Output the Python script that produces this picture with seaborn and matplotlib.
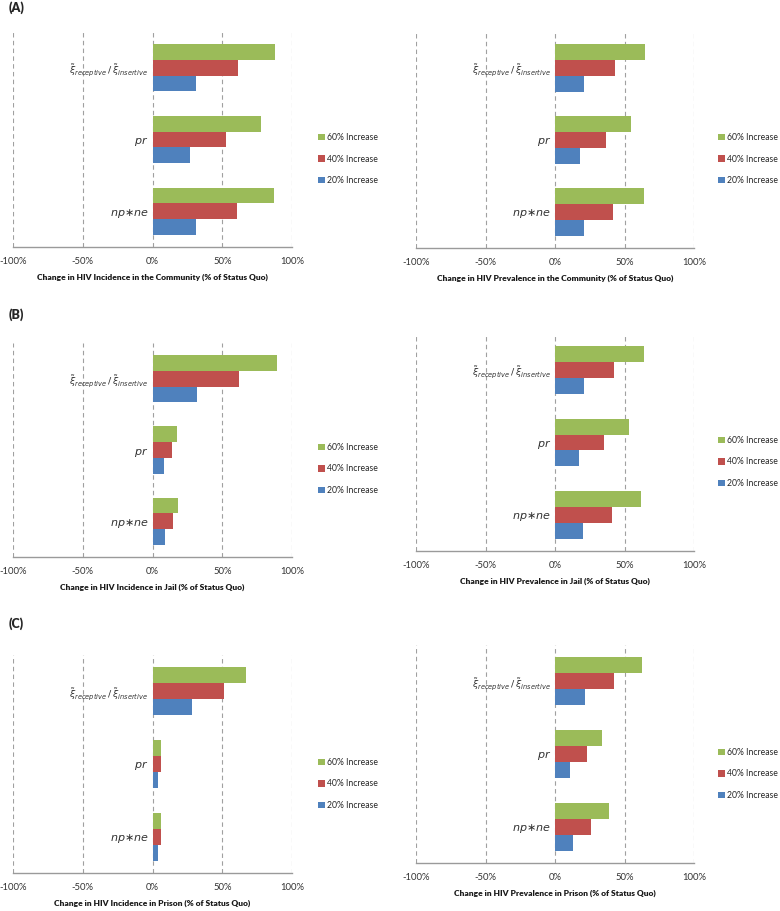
import pandas as pd
import matplotlib.pyplot as plt
import seaborn as sns

# =========================================
# DATA (% change vs status quo)
# =========================================

params = [r'$\tilde{\xi}_{receptive}\,/\,\tilde{\xi}_{insertive}$', r'$pr$', r'$np{\ast}ne$']
scenarios = ['60% Increase', '40% Increase', '20% Increase']
colors = ['#9BBB59', '#C0504D', '#4F81BD']
xticks = [-100, -50, 0, 50, 100]

comm_inc_60 = [87.8, 77.5, 87.2]
comm_inc_40 = [61.0, 53.0, 60.8]
comm_inc_20 = [31.0, 27.0, 31.0]

comm_prev_60 = [64.7, 55.0, 64.0]
comm_prev_40 = [43.0, 36.5, 42.0]
comm_prev_20 = [21.0, 18.0, 20.6]

jail_inc_60 = [89.0, 17.5, 18.0]
jail_inc_40 = [62.0, 14.0, 15.0]
jail_inc_20 = [31.7, 8.0, 9.0]

jail_prev_60 = [64.0, 53.5, 62.0]
jail_prev_40 = [42.5, 35.5, 41.0]
jail_prev_20 = [21.0, 17.5, 20.0]

prison_inc_60 = [66.7, 6.3, 6.0]
prison_inc_40 = [51.0, 5.8, 6.0]
prison_inc_20 = [28.0, 3.6, 4.0]

prison_prev_60 = [62.6, 34.0, 39.0]
prison_prev_40 = [42.7, 23.0, 26.0]
prison_prev_20 = [21.6, 11.0, 13.0]

xlabels = [
    "Change in HIV Incidence in the Community (% of Status Quo)",
    "Change in HIV Prevalence in the Community (% of Status Quo)",
    "Change in HIV Incidence in Jail (% of Status Quo)",
    "Change in HIV Prevalence in Jail (% of Status Quo)",
    "Change in HIV Incidence in Prison (% of Status Quo)",
    "Change in HIV Prevalence in Prison (% of Status Quo)",
]

panel_data = [
    (comm_inc_60, comm_inc_40, comm_inc_20),
    (comm_prev_60, comm_prev_40, comm_prev_20),
    (jail_inc_60, jail_inc_40, jail_inc_20),
    (jail_prev_60, jail_prev_40, jail_prev_20),
    (prison_inc_60, prison_inc_40, prison_inc_20),
    (prison_prev_60, prison_prev_40, prison_prev_20),
]

# =========================================
# LAYOUT (pixel boxes: left, top, right, bottom) + legend anchors
# =========================================

W, H = 780, 911
boxes = [
    (13, 32, 292, 247), (416, 32, 694, 248),
    (13, 343, 292, 557), (416, 334, 694, 551),
    (13, 655, 292, 873), (416, 645, 694, 863),
]
legend_pos = [(314, 159), (714, 159), (314, 469), (714, 462), (314, 784), (714, 774)]
panel_tags = [("(A)", 9, 8), ("(B)", 9, 315), ("(C)", 9, 624)]

# =========================================
# STYLE
# =========================================

sns.set_style("white")
plt.rcParams['font.family'] = ['Lato', 'DejaVu Sans']
plt.rcParams['mathtext.fontset'] = 'dejavusans'

fig = plt.figure(figsize=(W / 100, H / 100), dpi=100)

for i, (vals, box, lpos) in enumerate(zip(panel_data, boxes, legend_pos)):
    l, t, r, b = box
    ax = fig.add_axes([l / W, 1 - b / H, (r - l) / W, (b - t) / H])

    df = pd.DataFrame({
        'param': params * 3,
        'scenario': [s for s in scenarios for _ in params],
        'change': list(vals[0]) + list(vals[1]) + list(vals[2]),
    })

    sns.barplot(
        data=df, x='change', y='param', hue='scenario',
        order=params, hue_order=scenarios, palette=colors,
        orient='h', width=0.66, errorbar=None, ax=ax,
        saturation=1, edgecolor='none', linewidth=0
    )

    ax.set_xlim(-100, 100)
    ax.set_ylim(2.5, -0.5)
    ax.set_xticks(xticks)
    ax.set_xticklabels([f"{v}%" for v in xticks], fontsize=6.8, color='#333333')
    ax.set_xlabel(xlabels[i], fontsize=6.0, fontweight='heavy', labelpad=6, color='#1a1a1a')
    ax.set_ylabel("")

    ax.grid(axis='x', linestyle=(0, (4, 3)), color='#a0a0a0', linewidth=0.8)
    ax.set_axisbelow(True)
    for side in ['top', 'right']:
        ax.spines[side].set_visible(False)
    ax.spines['left'].set_position(('data', 0))
    ax.spines['left'].set_visible(False)
    ax.spines['bottom'].set_color('#9a9a9a')
    ax.spines['bottom'].set_linewidth(1)

    ax.tick_params(axis='x', direction='out', length=3, color='#9a9a9a', pad=4)
    ax.tick_params(axis='y', length=0, pad=3, labelsize=8, labelcolor='#333333')
    ax.get_yticklabels()[0].set_fontsize(6.8)

    handles, labels = ax.get_legend_handles_labels()
    ax.get_legend().remove()
    ax.legend(
        handles, labels, loc='center left',
        bbox_to_anchor=(lpos[0] / W, 1 - lpos[1] / H),
        bbox_transform=fig.transFigure, frameon=False,
        fontsize=6.2, handlelength=0.75, handleheight=0.75,
        handletextpad=0.3, labelspacing=1.45, borderpad=0
    )

for tag, x, y in panel_tags:
    fig.text(x / W, 1 - y / H, tag, fontsize=9, fontweight='heavy', va='center', ha='left')

plt.savefig("out.png", dpi=100)
